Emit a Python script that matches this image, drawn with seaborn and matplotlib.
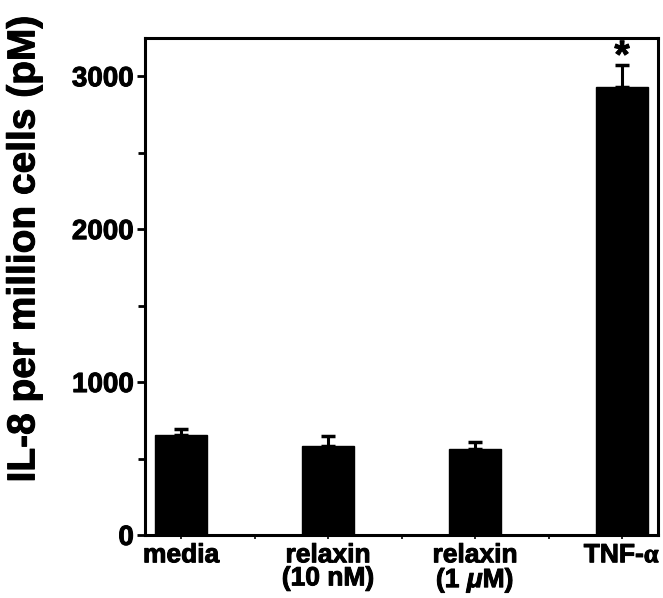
import numpy as np
import pandas as pd
import seaborn as sns
import matplotlib.pyplot as plt
import matplotlib.patheffects as pe
from matplotlib.ticker import MultipleLocator

# values
groups = ['media', 'relaxin\n(10 nM)', 'relaxin\n(1 $\\mu$M)', 'TNF-$\\mathrm{\\alpha}$']
il8_mean = [654, 582, 562, 2928]
il8_sem = [39, 65, 46, 144]
significant = [False, False, False, True]

sns.set_style('ticks')
plt.rcParams['font.family'] = ['Liberation Sans', 'DejaVu Sans']
plt.rcParams['font.weight'] = 'bold'
plt.rcParams['text.color'] = 'black'
plt.rcParams['axes.labelcolor'] = 'black'
plt.rcParams['xtick.color'] = 'black'
plt.rcParams['ytick.color'] = 'black'
plt.rcParams['mathtext.fontset'] = 'custom'
plt.rcParams['mathtext.it'] = 'Liberation Sans:italic:bold'
plt.rcParams['mathtext.rm'] = 'Liberation Serif'

heavy = [pe.withStroke(linewidth=0.7, foreground='black')]

df = pd.DataFrame({'group': groups, 'il8': il8_mean})

fig = plt.figure(figsize=(6.63, 5.98), dpi=100)
ax = fig.add_axes([0.2187, 0.1054, 0.7738, 0.8311])

sns.barplot(data=df, x='group', y='il8', color='black', width=0.35,
            saturation=1, ax=ax, errorbar=None, edgecolor='black')

# upward-only error bars
pos = np.arange(len(groups))
ax.errorbar(pos, il8_mean, yerr=[np.zeros(len(il8_sem)), il8_sem],
            fmt='none', ecolor='black', elinewidth=2.2, capsize=4.8, capthick=2.5)

for p, m, s, sig in zip(pos, il8_mean, il8_sem, significant):
    if sig:
        ax.text(p, m + s - 15, '*', ha='center', va='baseline',
                fontsize=28, fontweight='bold', path_effects=heavy)

ax.set_xlim(-0.245, 3.245)
ax.set_ylim(0, 3250)
ax.yaxis.set_major_locator(MultipleLocator(1000))
ax.yaxis.set_minor_locator(MultipleLocator(500))
ax.xaxis.set_minor_locator(MultipleLocator(0.5))

ax.set_xlabel('')
ax.set_ylabel('IL-8 per million cells (pM)', fontsize=28, fontweight='bold',
              labelpad=12, path_effects=heavy)
ax.yaxis.set_label_coords(-0.2, 0.575)

for side in ['left', 'right', 'top', 'bottom']:
    ax.spines[side].set_linewidth(2.2)
    ax.spines[side].set_color('black')

ax.tick_params(axis='y', which='major', length=6, width=2, labelsize=20, pad=2)
ax.tick_params(axis='y', which='minor', length=5, width=2)
ax.tick_params(axis='x', which='major', length=3, width=1.2, labelsize=19, pad=3)
ax.tick_params(axis='x', which='minor', length=3, width=1.2)
for lab in ax.get_xticklabels() + ax.get_yticklabels():
    lab.set_fontweight('bold')
    lab.set_linespacing(0.95)
    lab.set_path_effects(heavy)

fig.savefig('out.png', dpi=100)
